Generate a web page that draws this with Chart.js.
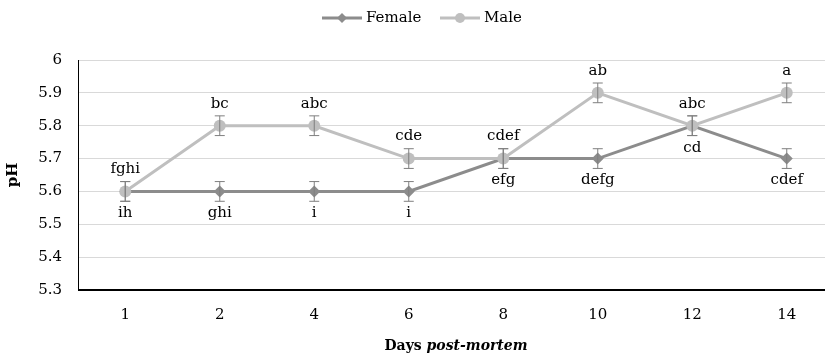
<!DOCTYPE html>
<html>
<head>
<meta charset="utf-8">
<script src="https://cdn.jsdelivr.net/npm/chart.js@4/dist/chart.umd.min.js"></script>
<style>
  html, body { margin: 0; padding: 0; background: #fff; overflow: hidden; }
  #wrap { position: relative; width: 840px; height: 356px; }
</style>
</head>
<body>
<div id="wrap"><canvas id="chart-ph"></canvas></div>
<script>
// data
var days = ["1", "2", "4", "6", "8", "10", "12", "14"];
var femalePH = [5.6, 5.6, 5.6, 5.6, 5.7, 5.7, 5.8, 5.7];
var malePH = [5.6, 5.8, 5.8, 5.7, 5.7, 5.9, 5.8, 5.9];
var femaleErr = [0.03, 0.03, 0.03, 0.03, 0.03, 0.03, 0.03, 0.03];
var maleErr = [0.03, 0.03, 0.03, 0.03, 0.03, 0.03, 0.03, 0.03];
var femaleLetters = ["ih", "ghi", "i", "i", "efg", "defg", "cd", "cdef"];
var maleLetters = ["fghi", "bc", "abc", "cde", "cdef", "ab", "abc", "a"];

var FONT = "DejaVu Serif";
var femaleColor = "#8c8c8c";
var maleColor = "#bfbfbf";

// error bars + letters over the points
var marksPlugin = {
    id: "marks",
    afterDatasetsDraw: function (chart) {
        var ctx = chart.ctx;
        var y = chart.scales.y;
        var sets = [
            { idx: 0, vals: femalePH, err: femaleErr, txt: femaleLetters, dy: 22 },
            { idx: 1, vals: malePH, err: maleErr, txt: maleLetters, dy: -22 }
        ];
        ctx.save();
        sets.forEach(function (s) {
            var meta = chart.getDatasetMeta(s.idx);
            meta.data.forEach(function (pt, i) {
                var top = y.getPixelForValue(s.vals[i] + s.err[i]);
                var bot = y.getPixelForValue(s.vals[i] - s.err[i]);
                ctx.strokeStyle = "#7f7f7f";
                ctx.lineWidth = 1;
                ctx.beginPath();
                ctx.moveTo(pt.x, top); ctx.lineTo(pt.x, bot);
                ctx.moveTo(pt.x - 5, top); ctx.lineTo(pt.x + 5, top);
                ctx.moveTo(pt.x - 5, bot); ctx.lineTo(pt.x + 5, bot);
                ctx.stroke();
            });
        });
        ctx.fillStyle = "#000";
        ctx.font = "15px '" + FONT + "'";
        ctx.textAlign = "center";
        ctx.textBaseline = "middle";
        sets.forEach(function (s) {
            var meta = chart.getDatasetMeta(s.idx);
            meta.data.forEach(function (pt, i) {
                ctx.fillText(s.txt[i], pt.x, pt.y + s.dy);
            });
        });
        ctx.restore();
    },
    afterDraw: function (chart) {
        var ctx = chart.ctx;
        var area = chart.chartArea;
        ctx.save();
        // legend: line with marker in the middle
        var items = [
            { label: "Female", color: femaleColor, style: "rectRot", x: 322 },
            { label: "Male", color: maleColor, style: "circle", x: 440 }
        ];
        ctx.font = "15px '" + FONT + "'";
        ctx.textBaseline = "middle";
        items.forEach(function (it) {
            ctx.strokeStyle = it.color;
            ctx.lineWidth = 3;
            ctx.beginPath();
            ctx.moveTo(it.x, 18); ctx.lineTo(it.x + 40, 18);
            ctx.stroke();
            ctx.fillStyle = it.color;
            Chart.helpers.drawPoint(ctx, { pointStyle: it.style, radius: 5, borderWidth: 0 }, it.x + 20, 18);
            ctx.fillStyle = "#000";
            ctx.textAlign = "left";
            ctx.fillText(it.label, it.x + 44, 18);
        });
        // x title with italic part
        var part1 = "Days ", part2 = "post-mortem";
        var f1 = "bold 14px '" + FONT + "'", f2 = "italic bold 14px '" + FONT + "'";
        ctx.font = f1; var w1 = ctx.measureText(part1).width;
        ctx.font = f2; var w2 = ctx.measureText(part2).width;
        var cx = (area.left + area.right) / 2;
        var sx = cx - (w1 + w2) / 2;
        ctx.textAlign = "left";
        ctx.fillStyle = "#000";
        ctx.font = f1; ctx.fillText(part1, sx, 346);
        ctx.font = f2; ctx.fillText(part2, sx + w1, 346);
        // axis lines
        ctx.strokeStyle = "#000";
        ctx.lineWidth = 1;
        ctx.beginPath();
        ctx.moveTo(area.left + 0.5, area.top); ctx.lineTo(area.left + 0.5, area.bottom);
        ctx.stroke();
        ctx.lineWidth = 2;
        ctx.beginPath();
        ctx.moveTo(area.left, area.bottom); ctx.lineTo(area.right, area.bottom);
        ctx.stroke();
        ctx.restore();
    }
};

var ctx = document.getElementById("chart-ph").getContext("2d");
new Chart(ctx, {
    type: "line",
    data: {
        labels: days,
        datasets: [{
            label: "Female",
            data: femalePH,
            borderColor: femaleColor,
            backgroundColor: femaleColor,
            borderWidth: 3,
            pointStyle: "rectRot",
            pointRadius: 6,
            pointBorderWidth: 0,
            tension: 0,
            order: 1
        }, {
            label: "Male",
            data: malePH,
            borderColor: maleColor,
            backgroundColor: maleColor,
            borderWidth: 3,
            pointStyle: "circle",
            pointRadius: 6,
            pointBorderWidth: 0,
            tension: 0,
            order: 0
        }]
    },
    options: {
        responsive: true,
        maintainAspectRatio: false,
        animation: false,
        layout: { padding: { top: 60, right: 6, bottom: 16, left: 4 } },
        plugins: {
            legend: { display: false },
            tooltip: { enabled: false }
        },
        scales: {
            y: {
                min: 5.3,
                max: 6,
                afterFit: function (scale) { scale.width = 74; },
                grid: { color: "#d9d9d9", drawTicks: false, lineWidth: 1 },
                border: { display: false },
                title: {
                    display: true,
                    text: "pH",
                    color: "#000",
                    font: { family: FONT, size: 15, weight: "bold" },
                    padding: 0
                },
                ticks: {
                    stepSize: 0.1,
                    color: "#000",
                    padding: 16,
                    font: { family: FONT, size: 15 },
                    callback: function (v) { return Math.round(v * 10) / 10 + ""; }
                }
            },
            x: {
                offset: true,
                grid: { display: false, drawTicks: false },
                border: { display: false },
                ticks: {
                    color: "#000",
                    padding: 16,
                    font: { family: FONT, size: 15 }
                }
            }
        }
    },
    plugins: [marksPlugin]
});
</script>
</body>
</html>
